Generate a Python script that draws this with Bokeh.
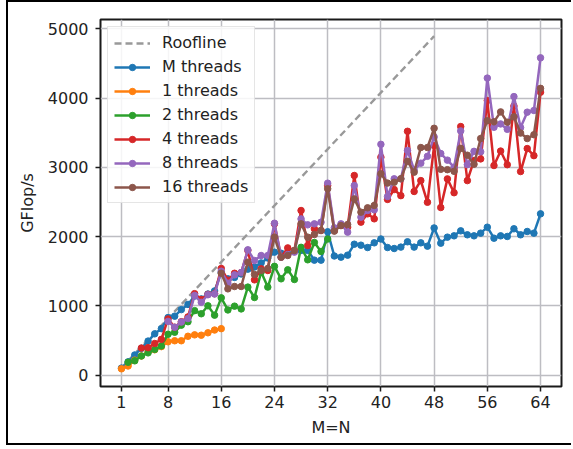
from bokeh.plotting import figure
from bokeh.models import Legend, LegendItem, FixedTicker, Range1d
from bokeh.embed import file_html
from bokeh.resources import INLINE

# ---- data ----
m_all = list(range(1, 65))
x_ticks = [1, 8, 16, 24, 32, 40, 48, 56, 64]
y_ticks = [0, 1000, 2000, 3000, 4000, 5000]

roof_m = [1, 48]
roof_gflops = [102, 4896]

m_threads = [100, 190, 290, 385, 490, 595, 670, 830, 850, 945, 1020, 1140, 1100, 1170, 1215, 1480,
             1390, 1410, 1460, 1530, 1560, 1620, 1690, 1775, 1760, 1750, 1790, 1800, 1800, 1660, 1660, 2070,
             1720, 1703, 1732, 1890, 1876, 1842, 1910, 1965, 1842, 1828, 1848, 1925, 1848, 1910, 1862, 2125,
             1905, 1992, 2011, 2083, 2026, 2011, 2050, 2136, 1977, 2011, 2002, 2113, 2026, 2074, 2050, 2329]

t1_start = 1
t1 = [90, 130, 215, 275, 335, 365, 410, 480, 495, 495, 560, 580, 575, 610, 650, 670]

t2_start = 2
t2 = [184, 205, 275, 320, 370, 420, 589, 618, 720, 770, 930, 885, 1000, 865, 1115,
      940, 995, 955, 1270, 1120, 1490, 1270, 1570, 1390, 1520, 1380, 1845, 1665, 1915, 1785, 1965]

t4_start = 4
t4 = [390, 395, 455, 515, 810, 690, 770, 840, 1175, 1090, 1165, 1175, 1540,
      1370, 1470, 1480, 1800, 1375, 1534, 1510, 2184, 1703, 1837, 1799, 2377, 1871, 2112, 2088, 2738,
      2088, 2160, 2137, 2883, 2209, 2329, 2257, 3147, 2537, 2680, 2592, 3522, 2652, 2809, 2496, 3316,
      2420, 2834, 2634, 3590, 2809, 3100, 3123, 3966, 3027, 3236, 3039, 3887, 2940, 3272, 3170, 4087]

t8_start = 8
t8 = [775, 690, 765, 815, 1150, 1050, 1160, 1170, 1500,
      1327, 1447, 1480, 1809, 1654, 1727, 1727, 2193, 1703, 1740, 1775, 2256, 2170, 2184, 2208, 2772,
      2127, 2184, 2064, 2738, 2281, 2377, 2387, 3333, 2579, 2835, 2835, 3244, 2964, 3061, 3160, 3440,
      3200, 3105, 3003, 3527, 3040, 3232, 3225, 4290, 3580, 3628, 3550, 4023, 3575, 3798, 3822, 4583]

t16_start = 16
t16 = [1471,
       1245, 1279, 1279, 1630, 1452, 1510, 1540, 1992, 1703, 1727, 1799, 2184, 1992, 2030, 2088, 2691,
       2079, 2160, 2175, 2545, 2353, 2416, 2450, 2907, 2773, 2785, 2835, 3088, 2931, 3287, 3287, 3565,
       2972, 2967, 2943, 3275, 3176, 3046, 3417, 3675, 3658, 3802, 3653, 3730, 3496, 3417, 3472, 4142]

FONT = "DejaVu Sans"
TXT = "#222222"

p = figure(width=565, height=445, output_backend="svg", toolbar_location=None,
           x_range=Range1d(-2.15, 67.15), y_range=Range1d(-166, 5137),
           min_border_left=92, min_border_right=12, min_border_top=17, min_border_bottom=61)
p.styles = {"margin-left": "6px", "border-left": "2px solid black",
            "border-top": "2px solid black", "border-bottom": "2px solid black"}

p.outline_line_color = "#1a1a1a"
p.outline_line_width = 2
p.background_fill_color = "white"
p.border_fill_color = "white"

for ax in (p.xaxis[0], p.yaxis[0]):
    ax.axis_line_color = None
    ax.major_tick_line_color = "#1a1a1a"
    ax.major_tick_line_width = 1.5
    ax.major_tick_out = 5
    ax.major_tick_in = 0
    ax.minor_tick_line_color = None
    ax.major_label_text_font = FONT
    ax.major_label_text_font_size = "16px"
    ax.major_label_text_color = TXT
    ax.axis_label_text_font = FONT
    ax.axis_label_text_font_size = "16px"
    ax.axis_label_text_font_style = "normal"
    ax.axis_label_text_color = TXT

p.xaxis[0].ticker = FixedTicker(ticks=x_ticks)
p.yaxis[0].ticker = FixedTicker(ticks=y_ticks)
p.xaxis[0].axis_label = "M=N"
p.yaxis[0].axis_label = "GFlop/s"
p.xaxis[0].major_label_standoff = 4
p.yaxis[0].major_label_standoff = 7
p.xaxis[0].axis_label_standoff = 7
p.yaxis[0].axis_label_standoff = 8

for g in (p.xgrid[0], p.ygrid[0]):
    g.grid_line_color = "#bdbdc2"
    g.grid_line_width = 1.5

items = []
r = p.line(roof_m, roof_gflops, line_color="#999999", line_width=2.4, line_dash="7 4")
items.append(LegendItem(label="Roofline", renderers=[r]))

series = [
    ("M threads", 1, m_threads, "#1f77b4"),
    ("1 threads", t1_start, t1, "#ff7f0e"),
    ("2 threads", t2_start, t2, "#2ca02c"),
    ("4 threads", t4_start, t4, "#d62728"),
    ("8 threads", t8_start, t8, "#9467bd"),
    ("16 threads", t16_start, t16, "#8c564b"),
]
for name, start, vals, col in series:
    xs = m_all[start - 1:start - 1 + len(vals)]
    rl = p.line(xs, vals, line_color=col, line_width=2.5)
    rs = p.scatter(xs, vals, size=6.5, fill_color=col, line_color=col)
    items.append(LegendItem(label=name, renderers=[rl, rs]))

legend = Legend(items=items)
legend.location = "top_left"
legend.margin = 7
legend.padding = 6
legend.spacing = 5
legend.glyph_width = 36
legend.glyph_height = 16
legend.label_standoff = 12
legend.label_text_font = FONT
legend.label_text_font_size = "16px"
legend.label_text_color = TXT
legend.border_line_color = "#cccccc"
legend.border_line_width = 1
legend.background_fill_alpha = 0.85
p.add_layout(legend, "center")

open("out.html", "w").write(file_html(p, INLINE))
